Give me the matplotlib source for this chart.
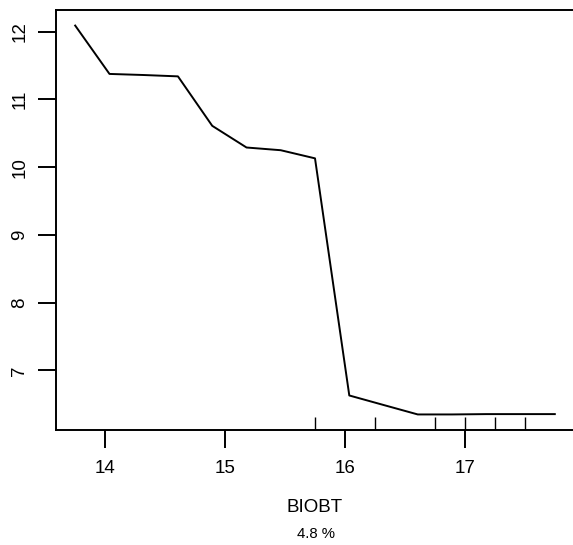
import matplotlib
matplotlib.use("Agg")
import matplotlib.pyplot as plt

# Data (partial dependence on BIOBT)
biobt = [13.75, 14.036, 14.321, 14.607, 14.893, 15.179, 15.464, 15.75,
         16.036, 16.321, 16.607, 16.893, 17.179, 17.464, 17.75]
fitted = [12.09, 11.376, 11.36, 11.34, 10.61, 10.29, 10.25, 10.13,
          6.63, 6.49, 6.35, 6.35, 6.355, 6.355, 6.355]
rug_pos = [15.75, 16.25, 16.75, 17.0, 17.25, 17.5]
x_ticks = [14, 15, 16, 17]
y_ticks = [7, 8, 9, 10, 11, 12]

plt.rcParams['font.family'] = ['Liberation Sans', 'DejaVu Sans']

fig = plt.figure(figsize=(5.73, 5.45), dpi=100)
ax = fig.add_axes([56 / 573, 1 - 430 / 545, 518 / 573, 420 / 545])

ax.plot(biobt, fitted, color='black', lw=1.4)

# R-style 4% padding
xr = max(biobt) - min(biobt)
yr = max(fitted) - min(fitted)
ax.set_xlim(min(biobt) - 0.04 * xr, max(biobt) + 0.04 * xr)
ax.set_ylim(min(fitted) - 0.04 * yr, max(fitted) + 0.04 * yr)

# rug of deciles along the bottom
ax.vlines(rug_pos, 0, 0.03, transform=ax.get_xaxis_transform(),
          color='black', lw=1)

ax.set_xticks(x_ticks)
ax.set_yticks(y_ticks)
ax.tick_params(axis='both', length=13, width=1.4, labelsize=13.5)
ax.tick_params(axis='x', pad=8.5)
ax.tick_params(axis='y', pad=7)
for lab in ax.get_yticklabels():
    lab.set_rotation(90)
    lab.set_va('center')
for sp in ax.spines.values():
    sp.set_linewidth(1.4)

ax.set_xlabel('BIOBT', fontsize=13.5, labelpad=16)
fig.text(316 / 573, 1 - 533.5 / 545, '4.8 %', fontsize=10.7, ha='center', va='center')

fig.savefig('out.png', dpi=100)
